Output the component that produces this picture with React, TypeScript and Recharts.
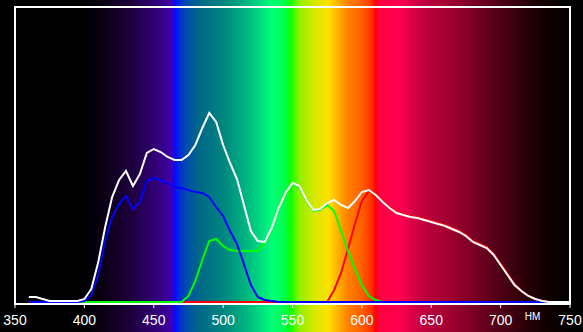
import React from 'react'
import {
  LineChart,
  Line,
  XAxis,
  YAxis,
  ReferenceArea,
  ReferenceDot
} from 'recharts'

// wavelength, nm
const wavelengths = [
  360, 365, 370, 375, 380, 385, 390, 395, 400, 405, 410, 415, 420, 425, 430, 435,
  440, 445, 450, 455, 460, 465, 470, 475, 480, 485, 490, 495, 500, 505, 510, 515,
  520, 525, 530, 535, 540, 545, 550, 555, 560, 565, 570, 575, 580, 585, 590, 595,
  600, 605, 610, 615, 620, 625, 630, 635, 640, 645, 650, 655, 660, 665, 670, 675,
  680, 685, 690, 695, 700, 705, 710, 715, 720, 725, 730, 735, 740, 745, 750
]

const whiteValues = [
  5, 5, 3, 1, 1, 1, 1, 1, 3, 13, 40, 75, 105, 122, 131, 116,
  128, 149, 153, 150, 145, 142, 142, 147, 157, 174, 189, 180, 157, 139, 123, 97,
  71, 61, 60, 74, 94, 109, 119, 116, 102, 92, 93, 99, 102, 97, 94, 101,
  110, 112, 107, 100, 94, 89, 87, 85, 84, 82, 80, 78, 76, 73, 70, 66,
  60, 57, 54, 47, 37, 27, 17, 11, 6, 3, 1, 0, 0, 0, 0
]

const blueValues = [
  0, 0, 0, 0, 0, 0, 0, 0, 1, 7, 27, 62, 85, 98, 106, 93,
  100, 121, 124, 122, 119, 115, 114, 112, 110, 109, 105, 95, 86, 71, 58, 38,
  17, 5, 2, 1, 0, 0, 0, 0, 0, 0, 0, 0, 0, 0, 0, 0,
  0, 0, 0, 0, 0, 0, 0, 0, 0, 0, 0, 0, 0, 0, 0, 0,
  0, 0, 0, 0, 0, 0, 0, 0, 0, 0, 0, 0, null, null, null
]

const greenValues = [
  0, 0, 0, 0, 0, 0, 0, 0, 0, 0, 0, 0, 0, 0, 0, 0,
  0, 0, 0, 0, 0, 0, 0, 6, 21, 42, 61, 63, 56, 52, 51, 51,
  51, 51, 59, 73, 93, 108, 118, 115, 101, 91, 92, 97, 91, 71, 51, 33,
  17, 6, 2, 0, 0, 0, 0, 0, 0, 0, 0, 0, 0, 0, 0, 0,
  0, 0, 0, 0, 0, 0, 0, 0, 0, 0, 0, 0, null, null, null
]

const redValues = [
  0, 0, 0, 0, 0, 0, 0, 0, 0, 0, 0, 0, 0, 0, 0, 0,
  0, 0, 0, 0, 0, 0, 0, 0, 0, 0, 0, 0, 0, 0, 0, 0,
  0, 0, 0, 0, 0, 0, 0, 0, 0, 0, 0, 0, 12, 29, 53, 78,
  101, 111, 108, 101, 95, 90, 88, 86, 85, 83, 81, 79, 77, 74, 71, 67,
  61, 58, 55, 48, 38, 28, 18, 11, 6, 3, 1, 0, null, null, null
]

const xTicks = [350, 400, 450, 500, 550, 600, 650, 700, 750]

// background spectrum, stop wavelength -> colour
const spectrumNm = [350, 400, 411, 432, 447, 458, 463, 464, 466, 469, 474, 483, 501, 515, 528, 535, 544, 549, 555, 566, 576, 583, 590, 600, 607, 610, 612, 627, 644, 663, 699, 728, 750]
const spectrumColors = [
  '#000000', '#000000', '#080010', '#1c0038', '#2c0068', '#3a0090', '#4000b0', '#2000e0', '#0010ff', '#0030d0', '#0050a8',
  '#006888', '#008880', '#00b080', '#00e080', '#00ff78', '#00ff50', '#10ff00', '#90f000', '#d8e800', '#ffe000', '#ffb000',
  '#ff8000', '#ff6000', '#ff3000', '#ff0000', '#ff0040', '#ff0050', '#c00040', '#a00030', '#500018', '#180000', '#000000'
]

const data = wavelengths.map((nm, i) => ({
  nm,
  white: whiteValues[i],
  blue: blueValues[i],
  green: greenValues[i],
  red: redValues[i]
}))

export default function App() {
  return (
    <div style={{
      position: 'absolute',
      left: 0,
      top: 0,
      width: 583,
      height: 332,
      background: '#000',
      fontFamily: '"Liberation Sans", Arial, sans-serif'
    }}>
      <LineChart
        width={583}
        height={332}
        data={data}
        margin={{ top: 7, right: 13, left: 15, bottom: 0 }}
      >
        <defs>
          <linearGradient id="spectrum" x1="0" y1="0" x2="1" y2="0">
            {spectrumNm.map((nm, i) => (
              <stop key={i} offset={(nm - 350) / 400} stopColor={spectrumColors[i]} />
            ))}
          </linearGradient>
        </defs>
        <XAxis
          dataKey="nm"
          type="number"
          domain={[350, 750]}
          ticks={xTicks}
          height={28}
          tick={{ fill: '#fff', fontSize: 14 }}
          tickSize={4}
          tickMargin={7}
          tickLine={{ stroke: '#fff' }}
          axisLine={{ stroke: '#fff', strokeWidth: 2 }}
          allowDataOverflow
        />
        <YAxis hide domain={[-2, 295]} allowDataOverflow />
        <ReferenceArea x1={350} x2={750} y1={-30} y2={302} fill="url(#spectrum)" fillOpacity={1} ifOverflow="visible" />
        <ReferenceArea x1={350} x2={750} y1={-2} y2={295} fill="none" stroke="#fff" strokeWidth={2} ifOverflow="visible" />
        <ReferenceDot
          x={723}
          y={-14}
          r={0}
          ifOverflow="visible"
          label={{ value: 'НМ', position: 'center', fill: '#fff', fontSize: 10 }}
        />
        <Line type="linear" dataKey="red" stroke="#ff0000" strokeWidth={2} dot={false} isAnimationActive={false} />
        <Line type="linear" dataKey="green" stroke="#00ff00" strokeWidth={2} dot={false} isAnimationActive={false} />
        <Line type="linear" dataKey="blue" stroke="#0000ff" strokeWidth={2} dot={false} isAnimationActive={false} />
        <Line type="linear" dataKey="white" stroke="#ffffff" strokeWidth={2} dot={false} isAnimationActive={false} />
      </LineChart>
    </div>
  )
}
